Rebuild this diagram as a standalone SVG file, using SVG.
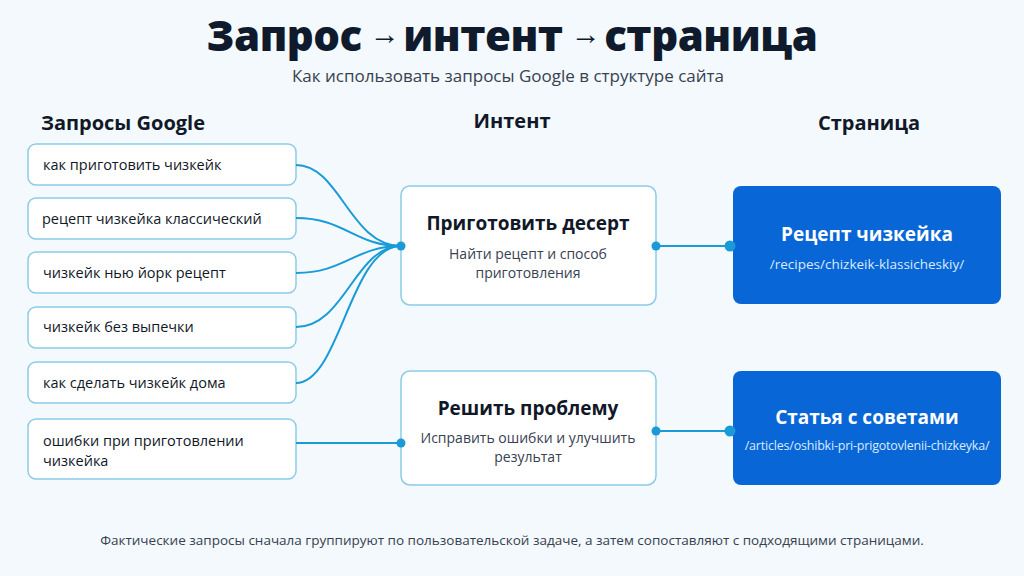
<svg xmlns="http://www.w3.org/2000/svg" width="1024" height="576" viewBox="0 0 1024 576">
<style>
text{font-family:"Open Sans","Noto Sans",sans-serif}
.q{fill:#fff;stroke:#8ccbe8;stroke-width:1.5}
.qt{font-size:14.5px;fill:#111827}
.h{font-size:20px;font-weight:700;fill:#111827}
.it{fill:#fff;stroke:#8ccbe8;stroke-width:1.5}
.itt{font-size:19px;font-weight:700;fill:#111827}
.its{font-size:14px;fill:#374151}
.pg{fill:#0866d6}
.pt{font-size:19px;font-weight:700;fill:#fff}
.pu{font-size:13.5px;fill:#dbeafe}
.c{fill:none;stroke:#1a9bd7;stroke-width:2}
.d{fill:#1a9bd7}
</style>
<rect width="1024" height="576" fill="#f3f9fc"/>
<text x="512" y="51" text-anchor="middle" font-size="42" font-weight="800" style="fill:#0f1b2d;letter-spacing:-0.5px">Запрос<tspan font-size="30" dx="8" dy="-7">→</tspan><tspan dx="4" dy="7">интент</tspan><tspan font-size="30" dx="8" dy="-7">→</tspan><tspan dx="4" dy="7">страница</tspan></text>
<text x="508" y="82" text-anchor="middle" font-size="17" style="fill:#374151">Как использовать запросы Google в структуре сайта</text>
<text class="h" x="123" y="130" text-anchor="middle">Запросы Google</text>
<text class="h" x="512" y="128" text-anchor="middle">Интент</text>
<text class="h" x="869" y="130" text-anchor="middle">Страница</text>
<g id="q1"><rect class="q" x="28" y="144" width="268" height="41" rx="8"/><text class="qt" x="43" y="170">как приготовить чизкейк</text></g>
<g id="q2"><rect class="q" x="28" y="198" width="268" height="41" rx="8"/><text class="qt" x="42" y="224">рецепт чизкейка классический</text></g>
<g id="q3"><rect class="q" x="28" y="252" width="268" height="41" rx="8"/><text class="qt" x="43" y="278">чизкейк нью йорк рецепт</text></g>
<g id="q4"><rect class="q" x="28" y="307" width="268" height="41" rx="8"/><text class="qt" x="43" y="332">чизкейк без выпечки</text></g>
<g id="q5"><rect class="q" x="28" y="362" width="268" height="41" rx="8"/><text class="qt" x="43" y="388">как сделать чизкейк дома</text></g>
<g id="q6"><rect class="q" x="28" y="419" width="268" height="60" rx="8"/><text class="qt" x="43" y="446">ошибки при приготовлении</text><text class="qt" x="43" y="466">чизкейка</text></g>
<g id="i1"><rect class="it" x="401" y="186" width="255" height="119" rx="9"/><text class="itt" x="528" y="230" text-anchor="middle">Приготовить десерт</text><text class="its" x="528" y="259" text-anchor="middle">Найти рецепт и способ</text><text class="its" x="528" y="278" text-anchor="middle">приготовления</text></g>
<g id="i2"><rect class="it" x="401" y="371" width="255" height="114" rx="9"/><text class="itt" x="528" y="415" text-anchor="middle">Решить проблему</text><text class="its" x="528" y="443" text-anchor="middle">Исправить ошибки и улучшить</text><text class="its" x="528" y="462" text-anchor="middle">результат</text></g>
<g id="p1"><rect class="pg" x="733" y="186" width="268" height="118" rx="8"/><text class="pt" x="867" y="241" text-anchor="middle">Рецепт чизкейка</text><text class="pu" x="867" y="269" text-anchor="middle">/recipes/chizkeik-klassicheskiy/</text></g>
<g id="p2"><rect class="pg" x="733" y="371" width="268" height="114" rx="8"/><text class="pt" x="867" y="424" text-anchor="middle">Статья с советами</text><text class="pu" x="867" y="450" text-anchor="middle" style="font-size:12.5px;letter-spacing:-0.2px">/articles/oshibki-pri-prigotovlenii-chizkeyka/</text></g>
<g id="connectors">
<path class="c" d="M296 165 C340 165 350 246 401 246"/>
<path class="c" d="M296 218 C345 218 355 246 401 246"/>
<path class="c" d="M296 273 C345 273 355 246 401 246"/>
<path class="c" d="M296 327 C345 327 355 246 401 246"/>
<path class="c" d="M296 383 C340 383 350 246 401 246"/>
<path class="c" d="M296 443 H401"/>
<path class="c" d="M656 246 H730"/>
<path class="c" d="M656 431 H730"/>
<circle class="d" cx="401" cy="246" r="4.5"/><circle class="d" cx="401" cy="443" r="4.5"/>
<circle class="d" cx="656" cy="246" r="4.5"/><circle class="d" cx="656" cy="431" r="4.5"/>
<circle class="d" cx="730" cy="246" r="5.5"/><circle class="d" cx="730" cy="431" r="5.5"/>
</g>
<text x="512" y="545" text-anchor="middle" font-size="13.5" style="fill:#374151">Фактические запросы сначала группируют по пользовательской задаче, а затем сопоставляют с подходящими страницами.</text>
</svg>
